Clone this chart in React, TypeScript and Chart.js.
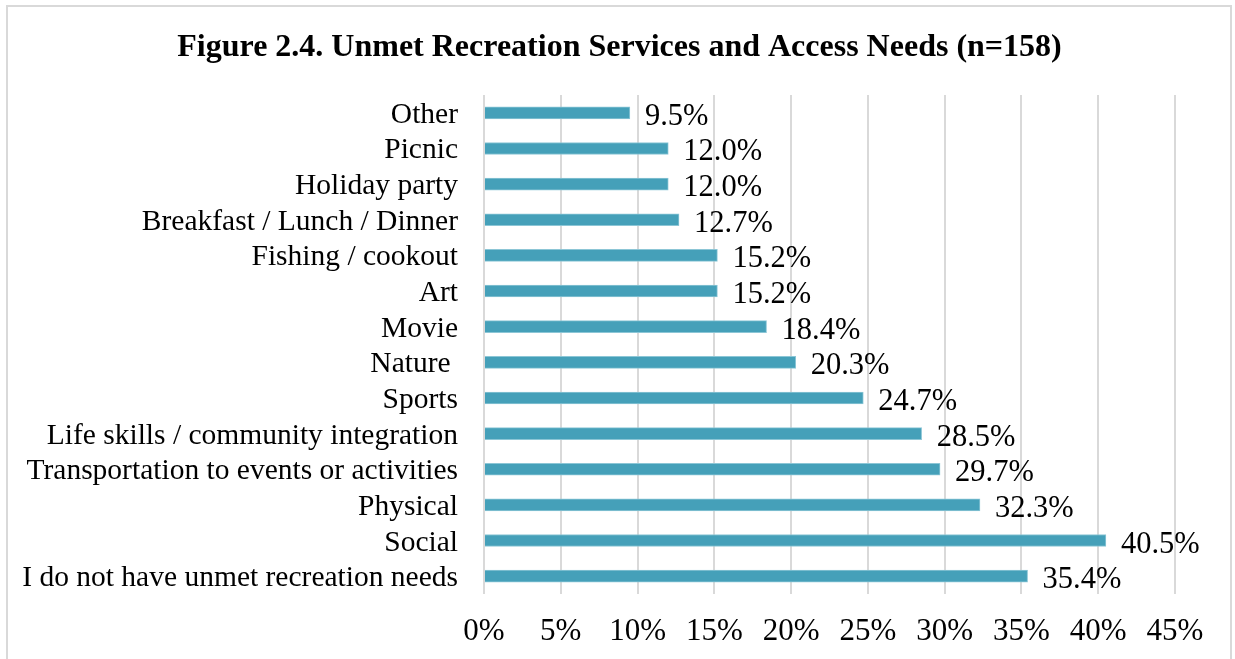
import React, { useEffect, useRef } from "react";
import { Chart, registerables } from "chart.js";

Chart.register(...registerables);

const titleText = "Figure 2.4. Unmet Recreation Services and Access Needs (n=158)";

const categories = [
  "Other",
  "Picnic",
  "Holiday party",
  "Breakfast / Lunch / Dinner",
  "Fishing / cookout",
  "Art",
  "Movie",
  "Nature ",
  "Sports",
  "Life skills / community integration",
  "Transportation to events or activities",
  "Physical",
  "Social",
  "I do not have unmet recreation needs",
];

const values = [9.5, 12.0, 12.0, 12.7, 15.2, 15.2, 18.4, 20.3, 24.7, 28.5, 29.7, 32.3, 40.5, 35.4];

const valueLabels = ["9.5%", "12.0%", "12.0%", "12.7%", "15.2%", "15.2%", "18.4%", "20.3%", "24.7%", "28.5%", "29.7%", "32.3%", "40.5%", "35.4%"];

const xTickLabels = ["0%", "5%", "10%", "15%", "20%", "25%", "30%", "35%", "40%", "45%"];

const FONT = "'Liberation Serif', 'Times New Roman', serif";
const BAR_COLOR = "#45A0B9";

const labelPlugin = {
  id: "customLabels",
  afterDatasetsDraw(chart: any) {
    const ctx = chart.ctx;
    const meta = chart.getDatasetMeta(0);
    const yScale = chart.scales.y;
    ctx.save();
    ctx.fillStyle = "#000";
    ctx.textBaseline = "alphabetic";
    // title
    ctx.font = `bold 32px ${FONT}`;
    ctx.textAlign = "center";
    ctx.fillText(titleText, chart.width / 2 + 2, 56);
    // value labels
    ctx.font = `30.5px ${FONT}`;
    ctx.textAlign = "left";
    meta.data.forEach((el: any, i: number) => {
      ctx.fillText(valueLabels[i], el.x + 15, el.y + 12);
    });
    // category labels
    ctx.font = `29.5px ${FONT}`;
    ctx.textAlign = "right";
    categories.forEach((c, i) => {
      const y = yScale.getPixelForTick(i);
      ctx.fillText(c, yScale.right - 26, y + 10);
    });
    ctx.restore();
  },
};

export default function App() {
  const ref = useRef<HTMLCanvasElement | null>(null);

  useEffect(() => {
    if (!ref.current) return;
    const chart = new Chart(ref.current, {
      type: "bar",
      data: {
        labels: categories,
        datasets: [
          {
            data: values,
            backgroundColor: BAR_COLOR,
            borderColor: "#8cc6d6",
            borderWidth: 1,
            barThickness: 12,
          },
        ],
      },
      options: {
        indexAxis: "y",
        animation: false,
        responsive: false,
        maintainAspectRatio: false,
        layout: { padding: { left: 0, right: 60, top: 95, bottom: 0 } },
        plugins: {
          legend: { display: false },
          tooltip: { enabled: false },
          title: { display: false },
        },
        scales: {
          x: {
            min: 0,
            max: 45,
            afterFit: (scale: any) => {
              scale.height = 65;
            },
            ticks: {
              stepSize: 5,
              color: "#000",
              font: { family: FONT, size: 31 },
              padding: 19,
              maxRotation: 0,
              callback: (_v: any, i: number) => xTickLabels[i],
            },
            grid: { color: "#d9d9d9", lineWidth: 2, drawTicks: false },
            border: { display: false },
          },
          y: {
            afterFit: (scale: any) => {
              scale.width = 484;
            },
            ticks: { display: false },
            grid: { display: false, drawTicks: false },
            border: { display: false },
          },
        },
      },
      plugins: [labelPlugin],
    });
    return () => chart.destroy();
  }, []);

  return (
    <div style={{ position: "fixed", left: 0, top: 0, width: 1235, height: 659, overflow: "hidden", background: "#fff" }}>
      <div
        style={{
          position: "absolute",
          left: 6,
          top: 5,
          width: 1226,
          height: 700,
          border: "2px solid #d9d9d9",
          boxSizing: "border-box",
        }}
      />
      <canvas ref={ref} width={1235} height={659} style={{ position: "absolute", left: 0, top: 0, display: "block" }} />
    </div>
  );
}
